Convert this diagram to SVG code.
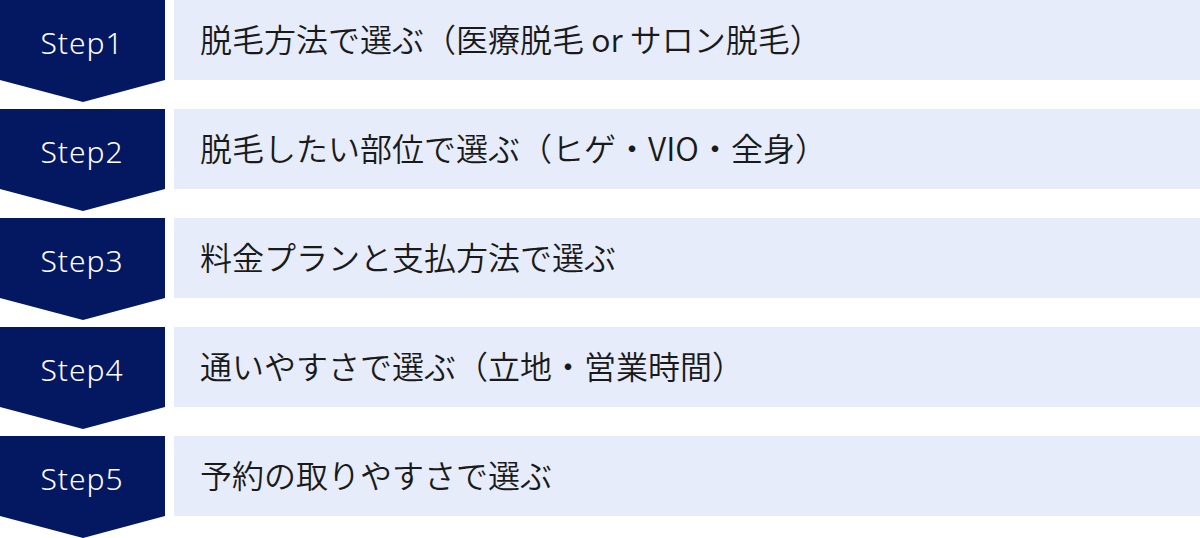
<svg xmlns="http://www.w3.org/2000/svg" width="1200" height="538" viewBox="0 0 1200 538">
<defs>
<style>
.chev{fill:#041862;}
.box{fill:#e6ecf9;}
.step{font-family:"Noto Sans","Open Sans",sans-serif;font-size:30px;font-weight:300;fill:#ffffff;text-anchor:middle;letter-spacing:1px;}
.lbl{font-family:"Noto Sans CJK JP","Noto Sans",sans-serif;font-size:32px;font-weight:350;fill:#1a1a1a;}
</style>
<path id="chevShape" d="M0 0H165V80L83 102L0 80Z"/>
</defs>
<rect width="1200" height="538" fill="#ffffff"/>
<g id="step1" transform="translate(0,0)">
<use href="#chevShape" class="chev"/>
<rect class="box" x="174" y="0" width="1026" height="80"/>
<text class="step" x="82" y="54">Step1</text>
<text class="lbl" x="200" y="52">脱毛方法で選ぶ（医療脱毛 or サロン脱毛）</text>
</g>
<g id="step2" transform="translate(0,109)">
<use href="#chevShape" class="chev"/>
<rect class="box" x="174" y="0" width="1026" height="80"/>
<text class="step" x="82" y="54">Step2</text>
<text class="lbl" x="200" y="52">脱毛したい部位で選ぶ（ヒゲ・VIO・全身）</text>
</g>
<g id="step3" transform="translate(0,218)">
<use href="#chevShape" class="chev"/>
<rect class="box" x="174" y="0" width="1026" height="80"/>
<text class="step" x="82" y="54">Step3</text>
<text class="lbl" x="200" y="52">料金プランと支払方法で選ぶ</text>
</g>
<g id="step4" transform="translate(0,327)">
<use href="#chevShape" class="chev"/>
<rect class="box" x="174" y="0" width="1026" height="80"/>
<text class="step" x="82" y="54">Step4</text>
<text class="lbl" x="200" y="52">通いやすさで選ぶ（立地・営業時間）</text>
</g>
<g id="step5" transform="translate(0,436)">
<use href="#chevShape" class="chev"/>
<rect class="box" x="174" y="0" width="1026" height="80"/>
<text class="step" x="82" y="54">Step5</text>
<text class="lbl" x="200" y="52">予約の取りやすさで選ぶ</text>
</g>
<g id="connectors"/>
</svg>
